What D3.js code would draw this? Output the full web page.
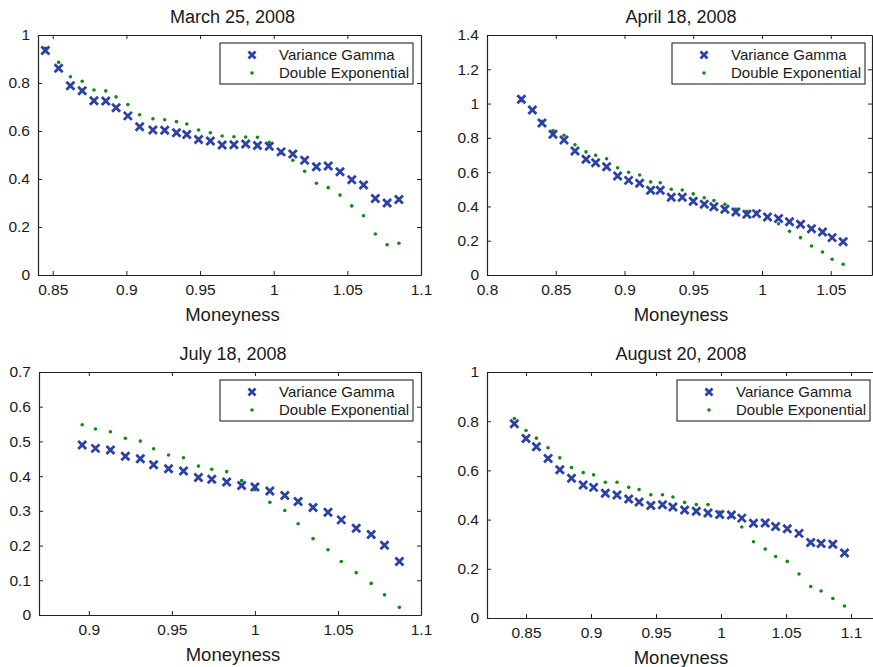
<!DOCTYPE html>
<html>
<head>
<meta charset="utf-8">
<script src="https://cdn.jsdelivr.net/npm/d3@7/dist/d3.min.js"></script>
<style>
  body { margin: 0; background: #fff; }
  text { font-family: "Liberation Sans", Arial, Helvetica, sans-serif; fill: #1a1a1a; }
</style>
</head>
<body>
<svg id="chart" width="873" height="667"></svg>
<script>
// series names
var seriesNames = ['Variance Gamma', 'Double Exponential'];

// March 25, 2008
var marMoney = [0.845, 0.854, 0.862, 0.870, 0.878, 0.886, 0.893, 0.901, 0.909, 0.918, 0.926,
    0.934, 0.941, 0.949, 0.957, 0.965, 0.973, 0.981, 0.989, 0.997, 1.005, 1.013, 1.021,
    1.029, 1.037, 1.045, 1.053, 1.061, 1.069, 1.077, 1.085];
var marVG = [0.935, 0.861, 0.789, 0.768, 0.726, 0.725, 0.697, 0.663, 0.618, 0.604, 0.603,
    0.593, 0.585, 0.565, 0.558, 0.542, 0.543, 0.546, 0.540, 0.536, 0.513, 0.504, 0.478,
    0.451, 0.454, 0.430, 0.397, 0.375, 0.319, 0.300, 0.315];
var marDE = [0.945, 0.886, 0.826, 0.807, 0.771, 0.767, 0.742, 0.710, 0.668, 0.651, 0.647,
    0.639, 0.629, 0.604, 0.593, 0.579, 0.576, 0.575, 0.574, 0.553, 0.508, 0.478, 0.432,
    0.382, 0.364, 0.333, 0.288, 0.247, 0.171, 0.126, 0.132];

// April 18, 2008
var aprMoney = [0.825, 0.833, 0.840, 0.848, 0.856, 0.864, 0.872, 0.879, 0.887, 0.895, 0.903,
    0.911, 0.919, 0.926, 0.934, 0.942, 0.950, 0.958, 0.965, 0.973, 0.981, 0.989, 0.996,
    1.004, 1.012, 1.020, 1.028, 1.036, 1.044, 1.051, 1.059];
var aprVG = [1.025, 0.963, 0.887, 0.821, 0.788, 0.723, 0.675, 0.655, 0.632, 0.578, 0.552,
    0.535, 0.494, 0.494, 0.453, 0.453, 0.430, 0.413, 0.398, 0.383, 0.368, 0.354, 0.358,
    0.338, 0.329, 0.311, 0.296, 0.270, 0.251, 0.218, 0.194];
var aprDE = [1.017, 0.961, 0.897, 0.842, 0.815, 0.760, 0.718, 0.698, 0.678, 0.626, 0.599,
    0.583, 0.543, 0.538, 0.500, 0.496, 0.473, 0.451, 0.434, 0.413, 0.385, 0.372, 0.366,
    0.338, 0.299, 0.255, 0.218, 0.169, 0.134, 0.092, 0.063];

// July 18, 2008
var julMoney = [0.896, 0.904, 0.913, 0.922, 0.931, 0.939, 0.948, 0.957, 0.966, 0.974, 0.983,
    0.992, 1.000, 1.009, 1.018, 1.026, 1.035, 1.044, 1.052, 1.061, 1.070, 1.078, 1.087];
var julVG = [0.490, 0.480, 0.475, 0.457, 0.450, 0.433, 0.421, 0.415, 0.396, 0.391, 0.383,
    0.373, 0.369, 0.357, 0.344, 0.327, 0.310, 0.296, 0.274, 0.250, 0.232, 0.201, 0.154];
var julDE = [0.548, 0.536, 0.528, 0.509, 0.501, 0.479, 0.461, 0.453, 0.429, 0.420, 0.413,
    0.387, 0.361, 0.325, 0.301, 0.263, 0.220, 0.188, 0.154, 0.122, 0.091, 0.058, 0.022];

// August 20, 2008
var augMoney = [0.841, 0.850, 0.858, 0.867, 0.876, 0.885, 0.894, 0.902, 0.911, 0.920, 0.929,
    0.937, 0.946, 0.955, 0.963, 0.972, 0.981, 0.990, 0.999, 1.008, 1.016, 1.025, 1.034,
    1.042, 1.051, 1.060, 1.069, 1.077, 1.086, 1.095];
var augVG = [0.790, 0.730, 0.696, 0.648, 0.603, 0.568, 0.541, 0.531, 0.507, 0.500, 0.484,
    0.472, 0.457, 0.460, 0.451, 0.439, 0.434, 0.427, 0.421, 0.419, 0.406, 0.385, 0.386,
    0.372, 0.363, 0.344, 0.307, 0.303, 0.300, 0.264];
var augDE = [0.811, 0.762, 0.731, 0.692, 0.651, 0.612, 0.591, 0.582, 0.552, 0.552, 0.531,
    0.522, 0.501, 0.501, 0.492, 0.470, 0.461, 0.461, 0.431, 0.412, 0.370, 0.310, 0.280,
    0.250, 0.230, 0.179, 0.128, 0.110, 0.079, 0.049];

// tick labels
var marXTicks = [0.85, 0.9, 0.95, 1, 1.05, 1.1];
var aprXTicks = [0.8, 0.85, 0.9, 0.95, 1, 1.05];
var julXTicks = [0.9, 0.95, 1, 1.05, 1.1];
var augXTicks = [0.85, 0.9, 0.95, 1, 1.05, 1.1];
var yTicksUnit = [0, 0.2, 0.4, 0.6, 0.8, 1];
var aprYTicks = [0, 0.2, 0.4, 0.6, 0.8, 1, 1.2, 1.4];
var julYTicks = [0, 0.1, 0.2, 0.3, 0.4, 0.5, 0.6, 0.7];

var panels = [
    {title: 'March 25, 2008', x: marMoney, vg: marVG, de: marDE, xDom: [0.84, 1.1], yDom: [0, 1],
     xTicks: marXTicks, yTicks: yTicksUnit, left: 38, right: 421, top: 35, bottom: 275, legX: 220},
    {title: 'April 18, 2008', x: aprMoney, vg: aprVG, de: aprDE, xDom: [0.8, 1.08], yDom: [0, 1.4],
     xTicks: aprXTicks, yTicks: aprYTicks, left: 487, right: 872, top: 35, bottom: 275, legX: 672},
    {title: 'July 18, 2008', x: julMoney, vg: julVG, de: julDE, xDom: [0.87, 1.1], yDom: [0, 0.7],
     xTicks: julXTicks, yTicks: julYTicks, left: 39, right: 421, top: 372, bottom: 615, legX: 220},
    {title: 'August 20, 2008', x: augMoney, vg: augVG, de: augDE, xDom: [0.82, 1.12], yDom: [0, 1],
     xTicks: augXTicks, yTicks: yTicksUnit, left: 487, right: 877, top: 372, bottom: 618, legX: 677}
];

var blue = '#2b41a6';
var green = '#128a12';
var svg = d3.select('#chart');

// draws the thick blue x marker
function cross(g, size) {
    g.append('path')
        .attr('d', 'M' + (-size) + ',' + (-size) + 'L' + size + ',' + size +
                   'M' + (-size) + ',' + size + 'L' + size + ',' + (-size))
        .attr('stroke', blue)
        .attr('stroke-width', 2.8)
        .attr('fill', 'none');
}

panels.forEach(function(p) {
    var x = d3.scaleLinear().domain(p.xDom).range([p.left, p.right]);
    var y = d3.scaleLinear().domain(p.yDom).range([p.bottom, p.top]);
    var fmt = function(d) { return String(d); };
    var g = svg.append('g');

    // axes, ticks pointing inward (box on)
    g.append('g')
        .attr('transform', 'translate(0,' + p.bottom + ')')
        .call(d3.axisBottom(x).tickValues(p.xTicks).tickFormat(fmt).tickSizeInner(-4).tickSizeOuter(0).tickPadding(9))
        .call(styleAxis)
        .selectAll('text').attr('font-size', 15.5);
    g.append('g')
        .attr('transform', 'translate(0,' + p.top + ')')
        .call(d3.axisTop(x).tickValues(p.xTicks).tickFormat('').tickSizeInner(-4).tickSizeOuter(0))
        .call(styleAxis);
    g.append('g')
        .attr('transform', 'translate(' + p.left + ',0)')
        .call(d3.axisLeft(y).tickValues(p.yTicks).tickFormat(fmt).tickSizeInner(-4).tickSizeOuter(0).tickPadding(8))
        .call(styleAxis)
        .selectAll('text').attr('font-size', 15.5);
    g.append('g')
        .attr('transform', 'translate(' + p.right + ',0)')
        .call(d3.axisRight(y).tickValues(p.yTicks).tickFormat('').tickSizeInner(-4).tickSizeOuter(0))
        .call(styleAxis);

    // title and label
    g.append('text')
        .attr('x', (p.left + Math.min(p.right, 869)) / 2 + 3)
        .attr('y', p.top - 12)
        .attr('text-anchor', 'middle')
        .attr('font-size', 18)
        .text(p.title);
    g.append('text')
        .attr('x', (p.left + Math.min(p.right, 869)) / 2 + 3)
        .attr('y', p.bottom + 46)
        .attr('text-anchor', 'middle')
        .attr('font-size', 18.5)
        .text('Moneyness');

    // Double Exponential dots
    g.selectAll('circle.de')
        .data(p.de)
        .enter()
        .append('circle')
        .attr('class', 'de')
        .attr('cx', function(d, i) { return x(p.x[i]); })
        .attr('cy', function(d) { return y(d); })
        .attr('r', 1.8)
        .attr('fill', green);

    // Variance Gamma crosses
    g.selectAll('g.vg')
        .data(p.vg)
        .enter()
        .append('g')
        .attr('class', 'vg')
        .attr('transform', function(d, i) { return 'translate(' + x(p.x[i]) + ',' + y(d) + ')'; })
        .each(function() { cross(d3.select(this), 4); });

    // legend
    var lg = g.append('g').attr('transform', 'translate(' + p.legX + ',' + (p.top + 8) + ')');
    lg.append('rect')
        .attr('width', 193)
        .attr('height', 41)
        .attr('fill', '#fff')
        .attr('stroke', '#111')
        .attr('stroke-width', 1);
    lg.append('g').attr('transform', 'translate(32,12)').call(cross, 3.5);
    lg.append('circle').attr('cx', 32).attr('cy', 30).attr('r', 1.8).attr('fill', green);
    lg.selectAll('text.leg')
        .data(seriesNames)
        .enter()
        .append('text')
        .attr('class', 'leg')
        .attr('x', 59)
        .attr('y', function(d, i) { return 17 + i * 18; })
        .attr('font-size', 15)
        .text(function(d) { return d; });
});

function styleAxis(a) {
    a.select('.domain').attr('stroke', '#222').attr('stroke-width', 1.2);
    a.selectAll('.tick line').attr('stroke', '#222');
    a.selectAll('.tick text').attr('fill', '#1a1a1a').attr('font-family', '"Liberation Sans", Arial, sans-serif');
}
</script>
</body>
</html>
